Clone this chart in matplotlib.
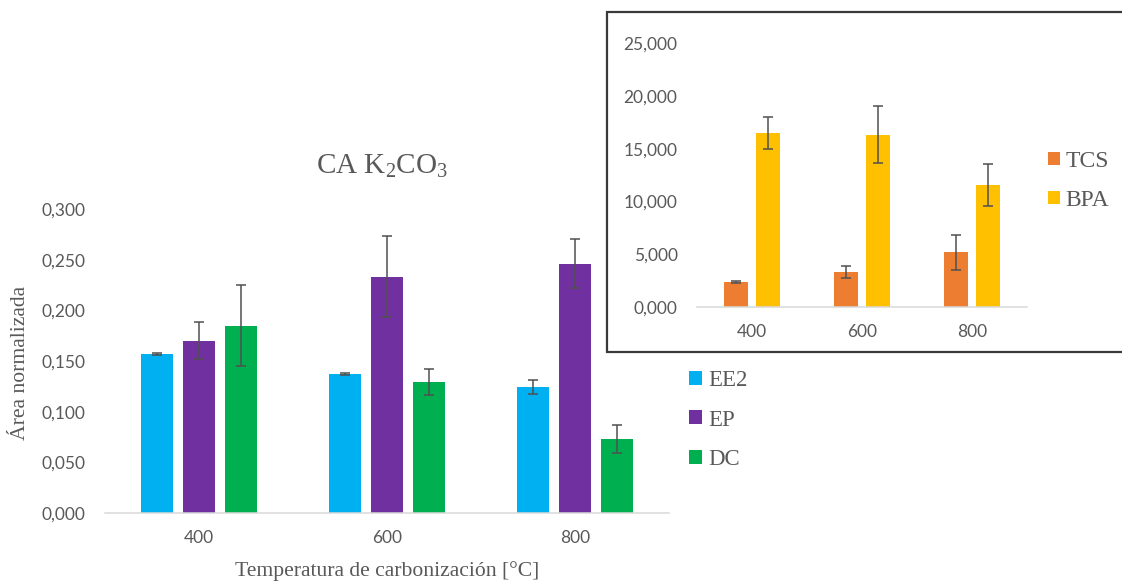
import matplotlib
matplotlib.use('Agg')
import matplotlib.pyplot as plt
from matplotlib.patches import Rectangle
from matplotlib.ticker import FuncFormatter, MultipleLocator
import numpy as np

# Main chart data (CA K2CO3)
temperaturas = ['400', '600', '800']
ee2 = [0.157, 0.137, 0.124]
ee2_err = [0.001, 0.001, 0.007]
ep = [0.170, 0.233, 0.246]
ep_err = [0.018, 0.040, 0.024]
dc = [0.185, 0.129, 0.073]
dc_err = [0.040, 0.013, 0.014]

# Inset data
tcs = [2.37, 3.29, 5.19]
tcs_err = [0.05, 0.55, 1.66]
bpa = [16.48, 16.32, 11.55]
bpa_err = [1.53, 2.69, 1.99]

GRAY = '#595959'
ERR = '#505050'
SERIF = 'Liberation Serif'
SANS = 'Lato'

comma_fmt = FuncFormatter(lambda v, p: f'{v:.3f}'.replace('.', ','))

fig = plt.figure(figsize=(11.22, 5.82), dpi=100)

# ---- main chart ----
ax = fig.add_axes([105/1122, 69/582, 564/1122, 304/582])
ax.set_facecolor('none')
x = np.arange(len(temperaturas))
w = 0.1755
off = 0.2234
err_kw = dict(ecolor=ERR, elinewidth=1.1, capsize=3.6, capthick=1.1)
b1 = ax.bar(x - off, ee2, w, yerr=ee2_err, color='#00B0F0', label='EE2', error_kw=err_kw)
b2 = ax.bar(x, ep, w, yerr=ep_err, color='#7030A0', label='EP', error_kw=err_kw)
b3 = ax.bar(x + off, dc, w, yerr=dc_err, color='#00B050', label='DC', error_kw=err_kw)
ax.set_xlim(-0.5, 2.5)
ax.set_ylim(0, 0.3)
ax.yaxis.set_major_locator(MultipleLocator(0.05))
ax.yaxis.set_major_formatter(comma_fmt)
ax.set_xticks(x)
ax.set_xticklabels(temperaturas)
for s in ['top', 'right', 'left']:
    ax.spines[s].set_visible(False)
ax.spines['bottom'].set_color('#D9D9D9')
ax.spines['bottom'].set_linewidth(1.1)
ax.tick_params(axis='y', length=0, pad=14, labelsize=12.5, labelcolor=GRAY)
ax.tick_params(axis='x', length=0, pad=12, labelsize=12.5, labelcolor=GRAY)
for lab in ax.get_xticklabels() + ax.get_yticklabels():
    lab.set_fontfamily(SANS)

fig.text(382/1122, 1 - 166/582, r'CA K$\mathregular{_2}$CO$\mathregular{_3}$',
         ha='center', va='center', fontsize=21, color=GRAY, fontfamily=SERIF)
fig.text(387/1122, 1 - 571/582, 'Temperatura de carbonización [°C]',
         ha='center', va='center', fontsize=15.6, color=GRAY, fontfamily=SERIF)
fig.text(21/1122, 1 - 363/582, 'Área normalizada', rotation=90,
         ha='center', va='center', fontsize=15.6, color=GRAY, fontfamily=SERIF)

fig.legend(handles=[b1, b2, b3], loc='center left',
           bbox_to_anchor=(689/1122, 1 - 420/582), frameon=False,
           prop={'family': SERIF, 'size': 16.5}, labelcolor=GRAY,
           handlelength=0.55, handleheight=0.55, handletextpad=0.3,
           labelspacing=0.8, borderpad=0, borderaxespad=0)

# ---- inset box ----
box = Rectangle((607/1122, 1 - 351.5/582), 523/1122, 340/582,
                transform=fig.transFigure, facecolor='white',
                edgecolor='#3a3a3a', linewidth=1.6, zorder=1)
fig.add_artist(box)

ax2 = fig.add_axes([697/1122, 1 - 307/582, 330/1122, 263.7/582])
ax2.set_zorder(2)
ax2.set_facecolor('none')
w2 = 0.224
off2 = 0.144
i1 = ax2.bar(x - off2, tcs, w2, yerr=tcs_err, color='#ED7D31', label='TCS', error_kw=err_kw)
i2 = ax2.bar(x + off2, bpa, w2, yerr=bpa_err, color='#FFC000', label='BPA', error_kw=err_kw)
ax2.set_xlim(-0.5, 2.5)
ax2.set_ylim(0, 25)
ax2.yaxis.set_major_locator(MultipleLocator(5))
ax2.yaxis.set_major_formatter(comma_fmt)
ax2.set_xticks(x)
ax2.set_xticklabels(temperaturas)
for s in ['top', 'right', 'left']:
    ax2.spines[s].set_visible(False)
ax2.spines['bottom'].set_color('#D9D9D9')
ax2.spines['bottom'].set_linewidth(1.1)
ax2.tick_params(axis='y', length=0, pad=14, labelsize=12.5, labelcolor=GRAY)
ax2.tick_params(axis='x', length=0, pad=12, labelsize=12.5, labelcolor=GRAY)
for lab in ax2.get_xticklabels() + ax2.get_yticklabels():
    lab.set_fontfamily(SANS)

fig.legend(handles=[i1, i2], loc='center left',
           bbox_to_anchor=(1048/1122, 1 - 181/582), frameon=False,
           prop={'family': SERIF, 'size': 17}, labelcolor=GRAY,
           handlelength=0.5, handleheight=0.5, handletextpad=0.25,
           labelspacing=0.75, borderpad=0, borderaxespad=0)

fig.savefig('out.png', dpi=100)
